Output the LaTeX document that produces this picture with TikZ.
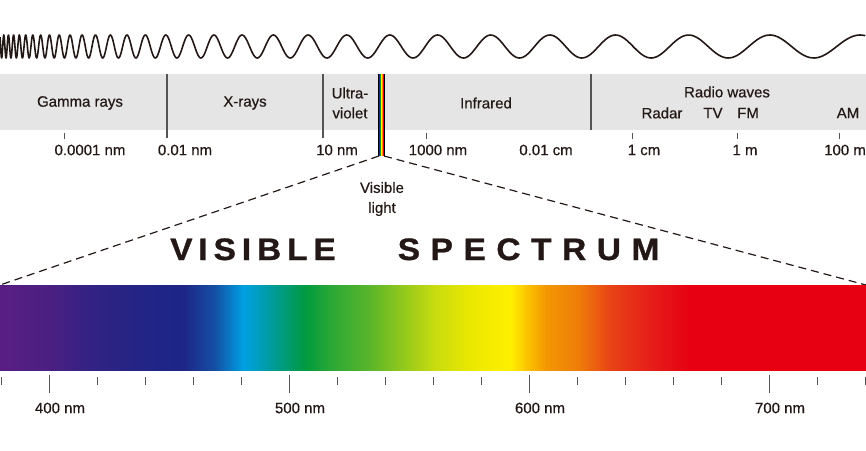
\documentclass[tikz,border=0pt]{standalone}
\usepackage{fontspec}
\setmainfont{Liberation Sans}
\newfontfamily\lab{Liberation Sans}[FakeBold=0.5]
\newfontfamily\ttl{Liberation Sans}[LetterSpace=34, FakeStretch=1.08, FakeBold=1]
\definecolor{ink}{HTML}{231815}
\definecolor{band}{HTML}{E5E5E5}
\definecolor{divc}{HTML}{555555}
\definecolor{s0}{HTML}{5A1E83}
\definecolor{s1}{HTML}{4A1F82}
\definecolor{s2}{HTML}{2E2383}
\definecolor{s3}{HTML}{1E2587}
\definecolor{s4}{HTML}{1D2787}
\definecolor{s5}{HTML}{1450A5}
\definecolor{s6}{HTML}{00A0E3}
\definecolor{s7}{HTML}{009B9A}
\definecolor{s8}{HTML}{009A3E}
\definecolor{s9}{HTML}{2AA836}
\definecolor{s10}{HTML}{5BB52A}
\definecolor{s11}{HTML}{C6DB10}
\definecolor{s12}{HTML}{EAE800}
\definecolor{s13}{HTML}{FFF000}
\definecolor{s14}{HTML}{FBC800}
\definecolor{s15}{HTML}{F39800}
\definecolor{s16}{HTML}{EE7A0A}
\definecolor{s17}{HTML}{E84316}
\definecolor{s18}{HTML}{E61E19}
\definecolor{s19}{HTML}{E60012}
\tikzset{
  lbl/.style={font=\lab\fontsize{15}{20}\selectfont, text=ink, inner sep=0pt, align=center},
  wave/.style={draw=ink, line width=1.6pt, line join=round},
  divider/.style={draw=divc, line width=1.2pt},
  tick/.style={draw=divc, line width=1pt},
  dashline/.style={draw=ink, line width=1.2pt, dash pattern=on 8pt off 5pt}
}
\begin{document}
\begin{tikzpicture}[x=1pt,y=-1pt]
\useasboundingbox (0,0) rectangle (866,450);
% wave
\draw[wave] plot[domain=0:29.96, samples=1000, variable=\t]
  ({4*(exp(0.106*\t)-1)/0.106}, {46.5-11.5*cos(360*(\t-0.9))});
% band
\fill[band] (0,74) rectangle (866,130);
\draw[divider] (167,74) -- (167,138);
\draw[divider] (323,74) -- (323,138);
\draw[divider] (591,74) -- (591,130);
\foreach \xx in {64,426,632,737,839}
  \draw[tick] (\xx,133) -- (\xx,139);
% visible strip
\foreach \i/\c in {0/black,1/s3,2/s8,3/s13,4/s15,5/s19,6/black}
  \fill[\c] (378+\i,74) rectangle (379+\i,156);
% band labels
\node[lbl] (gamma) at (80,103) {Gamma rays};
\node[lbl] (xray) at (245,103) {X-rays};
\node[lbl] (uv) at (350,103) {Ultra-\\violet};
\node[lbl] (ir) at (486,103) {Infrared};
\node[lbl] (radio) at (727,92) {Radio waves};
\node[lbl] (radar) at (662,113) {Radar};
\node[lbl] (tv) at (713,113) {TV};
\node[lbl] (fm) at (748,113) {FM};
\node[lbl] (am) at (848,113) {AM};
% scale labels
\node[lbl] (w1) at (90,150) {0.0001 nm};
\node[lbl] (w2) at (185,150) {0.01 nm};
\node[lbl] (w3) at (337,150) {10 nm};
\node[lbl] (w4) at (438,150) {1000 nm};
\node[lbl] (w5) at (546,150) {0.01 cm};
\node[lbl] (w6) at (644,150) {1 cm};
\node[lbl] (w7) at (745,150) {1 m};
\node[lbl] (w8) at (845,150) {100 m};
% visible light
\node[lbl] (vis) at (382,199) {Visible\\light};
% dashed
\coordinate (sl) at (379,156);
\coordinate (sr) at (384,156);
\coordinate (bl) at (0,285);
\coordinate (br) at (866,285);
\draw[dashline] (sl) -- (bl);
\draw[dashline] (sr) -- (br);
% title
\node[font=\ttl\bfseries\fontsize{31}{31}\selectfont, text=ink, inner sep=0pt, anchor=base west] (title) at (170,260) {{\addfontfeature{LetterSpace=19}VISIBLE}\hspace{62pt}SPECTRUM};
% spectrum bar
\foreach \a/\b/\ca/\cb in {0/50/s0/s1, 50/100/s1/s2, 100/160/s2/s3, 160/185/s3/s4, 185/215/s4/s5, 215/243/s5/s6, 243/272/s6/s7, 272/305/s7/s8, 305/330/s8/s9, 330/370/s9/s10, 370/433/s10/s11, 433/470/s11/s12, 470/510/s12/s13, 510/525/s13/s14, 525/545/s14/s15, 545/580/s15/s16, 580/610/s16/s17, 610/650/s17/s18, 650/690/s18/s19, 690/866/s19/s19}
  \shade[left color=\ca, right color=\cb] (\a,285) rectangle (\b+0.7,370);
% bar ticks
\foreach \k in {0,...,18}
  \draw[tick] (1.5+48*\k,377) -- (1.5+48*\k,385);
\foreach \k in {1,6,11,16}
  \draw[tick] (1.5+48*\k,375) -- (1.5+48*\k,393);
\node[lbl] (n400) at (60,408) {400 nm};
\node[lbl] (n500) at (300,408) {500 nm};
\node[lbl] (n600) at (540,408) {600 nm};
\node[lbl] (n700) at (780,408) {700 nm};
\end{tikzpicture}
\end{document}
